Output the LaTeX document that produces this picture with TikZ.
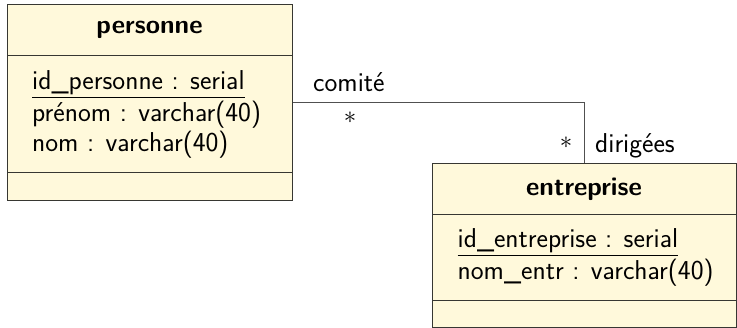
\documentclass[tikz,border=0pt]{standalone}
\usepackage{tikz}
\definecolor{boxfill}{RGB}{255,249,219}
\definecolor{boxline}{RGB}{55,55,50}
\definecolor{connline}{RGB}{80,80,80}
\begin{document}
\begin{tikzpicture}[x=1pt,y=-1pt,
  box/.style={draw=boxline,fill=boxfill,line width=1pt,inner sep=0pt,anchor=north west},
  divider/.style={draw=boxline,line width=1pt},
  conn/.style={draw=connline,line width=0.9pt},
  txt/.style={font=\fontsize{27.3}{32}\selectfont\sffamily,inner sep=0pt},
  attr/.style={txt,anchor=base west},
  ttl/.style={txt,font=\fontsize{26}{32}\selectfont\sffamily\bfseries}]
\useasboundingbox (0,0) rectangle (737,328);
% personne
\node[box,minimum width=285pt,minimum height=196pt] (pbox) at (7,4) {};
\coordinate (pd1) at (7,56);
\coordinate (pd2) at (7,173);
\draw[divider] (pd1) -- (pd1 -| pbox.east);
\draw[divider] (pd2) -- (pd2 -| pbox.east);
\node[ttl] (ptitle) at (149.5,30) {personne};
\node[attr] (pa1) at (32,90) {\underline{id\_personne : serial}};
\node[attr] (pa2) at (32,122) {prénom : varchar(40)};
\node[attr] (pa3) at (32,152) {nom : varchar(40)};
% entreprise
\node[box,minimum width=304pt,minimum height=164pt] (ebox) at (432,163) {};
\coordinate (ed1) at (432,215);
\coordinate (ed2) at (432,300.5);
\draw[divider] (ed1) -- (ed1 -| ebox.east);
\draw[divider] (ed2) -- (ed2 -| ebox.east);
\node[ttl] (etitle) at (584,189) {entreprise};
\node[attr] (ea1) at (457.5,248) {\underline{id\_entreprise : serial}};
\node[attr] (ea2) at (457.5,280) {nom\_entr : varchar(40)};
% association
\draw[conn] (pbox.east) -| (ebox.north);
\node[attr] (l1) at (313,92) {comité};
\node[txt] (m1) at (350,117.5) {$*$};
\node[txt] (m2) at (566,143) {$*$};
\node[attr] (l2) at (595,153) {dirigées};
\end{tikzpicture}
\end{document}
